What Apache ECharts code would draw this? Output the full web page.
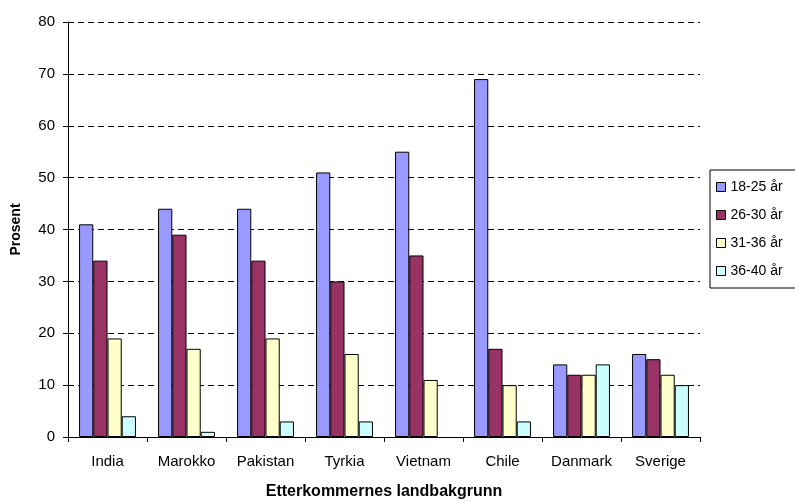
<!DOCTYPE html>
<html>
<head>
<meta charset="utf-8">
<script src="https://cdn.jsdelivr.net/npm/echarts@6/dist/echarts.min.js"></script>
<style>
	html, body { margin: 0; padding: 0; background: #fff; }
	#chart { width: 795px; height: 502px; }
</style>
</head>
<body>
<div id="chart"></div>
<script>
const categories = ['India', 'Marokko', 'Pakistan', 'Tyrkia', 'Vietnam', 'Chile', 'Danmark', 'Sverige']
const seriesNames = ['18-25 år', '26-30 år', '31-36 år', '36-40 år']
const age18to25 = [41, 44, 44, 51, 55, 69, 14, 16]
const age26to30 = [34, 39, 34, 30, 35, 17, 12, 15]
const age31to36 = [19, 17, 19, 16, 11, 10, 12, 12]
const age36to40 = [4, 1, 3, 3, 0, 3, 14, 10]
const colors = ['#9999FF', '#993366', '#FFFFCC', '#CCFFFF']

const font = '"Liberation Sans", Arial, sans-serif'
const chart = echarts.init(document.getElementById('chart'))

const dataList = [age18to25, age26to30, age31to36, age36to40]

// zero values get no outline, so they draw nothing
const toBarData = (arr) => arr.map(v => v === 0 ? { value: v, itemStyle: { borderWidth: 0 } } : v)

const option = {
	animation: false,
	grid: { left: 68, right: 95, top: 22, bottom: 65, outerBoundsMode: 'none', containLabel: false },
	legend: {
		orient: 'vertical',
		left: 710,
		top: 170,
		itemWidth: 9,
		itemHeight: 9,
		itemGap: 14,
		padding: [10, 40, 10, 6],
		borderColor: '#000',
		borderWidth: 1,
		textStyle: { fontFamily: font, fontSize: 14, color: '#000' },
		data: seriesNames.map((n, i) => ({
			name: n,
			icon: 'rect',
			itemStyle: { color: colors[i], borderColor: '#000', borderWidth: 1 }
		}))
	},
	xAxis: {
		type: 'category',
		data: categories,
		name: 'Etterkommernes landbakgrunn',
		nameLocation: 'middle',
		nameGap: 47,
		nameTextStyle: { fontFamily: font, fontSize: 16, fontWeight: 'bold', color: '#000' },
		axisLine: { lineStyle: { color: '#000' } },
		axisTick: { show: true, length: 5, lineStyle: { color: '#000' } },
		axisLabel: { interval: 0, hideOverlap: false, fontFamily: font, fontSize: 15, color: '#000', margin: 17 }
	},
	yAxis: {
		type: 'value',
		min: 0,
		max: 80,
		interval: 10,
		name: 'Prosent',
		nameLocation: 'middle',
		nameGap: 45,
		nameTextStyle: { fontFamily: font, fontSize: 14, fontWeight: 'bold', color: '#000' },
		axisLine: { show: true, lineStyle: { color: '#000' } },
		axisTick: { show: true, length: 5, lineStyle: { color: '#000' } },
		axisLabel: { fontFamily: font, fontSize: 15, color: '#000', margin: 13 },
		splitLine: { lineStyle: { color: '#000', type: [6, 4] } }
	},
	series: seriesNames.map((name, i) => ({
		name: name,
		type: 'bar',
		data: toBarData(dataList[i]),
		barGap: '0%',
		barCategoryGap: '28%',
		itemStyle: { color: colors[i], borderColor: '#000', borderWidth: 1 }
	}))
}

chart.setOption(option)
</script>
</body>
</html>
